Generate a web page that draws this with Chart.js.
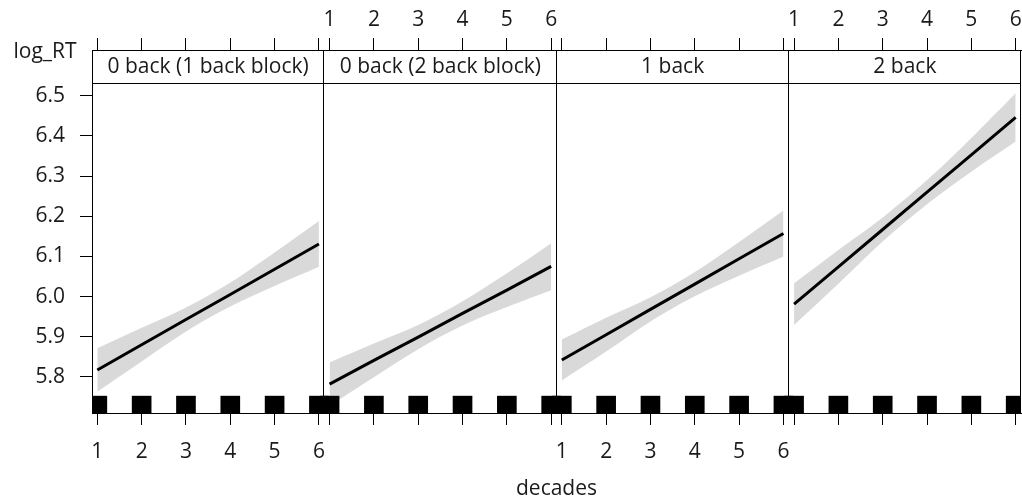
<!DOCTYPE html>
<html>
<head>
<meta charset="utf-8">
<script src="https://cdn.jsdelivr.net/npm/chart.js@4/dist/chart.umd.min.js"></script>
<style>
  html, body { margin: 0; padding: 0; background: #fff; }
  canvas { display: block; }
</style>
</head>
<body>
<canvas id="chart" width="1022" height="501"></canvas>
<script>
// Panel titles (strip labels), left to right
const panelTitles = ['0 back (1 back block)', '0 back (2 back block)', '1 back', '2 back'];

// Predictor values (decades) shared by every panel
const decades = [1, 2, 3, 4, 5, 6];

// Fitted log_RT and 95% band, one set per panel
const fit0Back1Block = [5.817, 5.880, 5.943, 6.005, 6.068, 6.131];
const low0Back1Block = [5.763, 5.838, 5.913, 5.975, 6.026, 6.074];
const upp0Back1Block = [5.871, 5.922, 5.973, 6.035, 6.110, 6.188];

const fit0Back2Block = [5.782, 5.841, 5.899, 5.958, 6.016, 6.075];
const low0Back2Block = [5.728, 5.799, 5.869, 5.928, 5.974, 6.016];
const upp0Back2Block = [5.836, 5.883, 5.929, 5.988, 6.058, 6.133];

const fit1Back = [5.842, 5.905, 5.968, 6.031, 6.094, 6.157];
const low1Back = [5.791, 5.863, 5.938, 6.001, 6.052, 6.100];
const upp1Back = [5.893, 5.947, 5.998, 6.061, 6.136, 6.214];

const fit2Back = [5.981, 6.074, 6.167, 6.260, 6.353, 6.446];
const low2Back = [5.929, 6.032, 6.137, 6.230, 6.311, 6.386];
const upp2Back = [6.033, 6.116, 6.197, 6.290, 6.395, 6.506];

// Y axis tick values
const yTickValues = [5.8, 5.9, 6.0, 6.1, 6.2, 6.3, 6.4, 6.5];

// Rug marks: observed decade values (same in every panel)
const rugDecades = [1, 2, 3, 4, 5, 6];

const panelFits = [fit0Back1Block, fit0Back2Block, fit1Back, fit2Back];
const panelLows = [low0Back1Block, low0Back2Block, low1Back, low2Back];
const panelUpps = [upp0Back1Block, upp0Back2Block, upp1Back, upp2Back];

// Each panel covers the same decades range; panels sit side by side on one x scale
const X_LO = 0.88;
const X_HI = 6.12;
const SPAN = X_HI - X_LO;
const Y_LO = 5.71;
const Y_HI = 6.614;
const RUG_TOP = 5.752;
const STRIP_H = 33;

const FONT = 'Open Sans';
const TEXT = '#1a1a1a';
const BAND = 'rgba(0,0,0,0.15)';

const xAt = (panel, d) => d + panel * SPAN;

const datasets = [];
panelFits.forEach((fit, p) => {
  datasets.push({
    type: 'line', order: 2,
    data: decades.map((d, i) => ({ x: xAt(p, d), y: panelLows[p][i] })),
    borderWidth: 0, pointRadius: 0, fill: false, tension: 0.35
  });
  datasets.push({
    type: 'line', order: 2,
    data: decades.map((d, i) => ({ x: xAt(p, d), y: panelUpps[p][i] })),
    borderWidth: 0, pointRadius: 0, fill: '-1', backgroundColor: BAND, tension: 0.35
  });
  datasets.push({
    type: 'line', order: 1,
    data: decades.map((d, i) => ({ x: xAt(p, d), y: fit[i] })),
    borderColor: '#000', borderWidth: 3, pointRadius: 0, fill: false
  });
});
const rugData = [];
panelTitles.forEach((t, p) => rugDecades.forEach(d => rugData.push({ x: xAt(p, d), y: [Y_LO, RUG_TOP] })));
datasets.push({
  type: 'bar', order: 0, data: rugData,
  backgroundColor: '#000', borderWidth: 0, barThickness: 19
});

const xTickValues = [];
panelTitles.forEach((t, p) => decades.forEach(d => xTickValues.push(xAt(p, d))));

const panelOf = v => Math.floor((v - X_LO) / SPAN);
const decadeOf = v => Math.round(v - panelOf(v) * SPAN);

// Keep the plot area edges fixed regardless of edge tick labels
const fixX = h => s => { s.height = h; s.paddingLeft = 0; s.paddingRight = 0; };

// Strip labels, panel frames and the response label
const framePlugin = {
  id: 'framePlugin',
  afterDraw(chart) {
    const { ctx, chartArea: a, scales: { x } } = chart;
    ctx.save();
    ctx.strokeStyle = '#000';
    ctx.lineWidth = 1;
    ctx.beginPath();
    const sy = Math.round(a.top + STRIP_H) + 0.5;
    ctx.moveTo(a.left, sy); ctx.lineTo(a.right, sy);
    for (let p = 1; p <= panelTitles.length; p++) {
      const px = Math.round(x.getPixelForValue(X_LO + p * SPAN)) - 0.5;
      ctx.moveTo(px, a.top); ctx.lineTo(px, a.bottom);
    }
    ctx.stroke();
    ctx.fillStyle = TEXT;
    ctx.font = `21px "${FONT}"`;
    ctx.textAlign = 'center';
    ctx.textBaseline = 'middle';
    panelTitles.forEach((t, p) => {
      const l = x.getPixelForValue(X_LO + p * SPAN);
      const r = x.getPixelForValue(X_LO + (p + 1) * SPAN);
      ctx.fillText(t, (l + r) / 2, a.top + STRIP_H / 2 + 1);
    });
    ctx.fillText('log_RT', 45, 52);
    ctx.restore();
  }
};

document.fonts.load(`21px "${FONT}"`).finally(() => {
  new Chart(document.getElementById('chart'), {
    type: 'line',
    data: { datasets },
    plugins: [framePlugin],
    options: {
      responsive: false,
      animation: false,
      layout: { padding: { left: 0, right: 1, top: 0, bottom: 0 } },
      plugins: { legend: { display: false }, tooltip: { enabled: false } },
      font: { family: FONT },
      scales: {
        x: {
          type: 'linear', position: 'bottom', min: X_LO, max: X_LO + panelTitles.length * SPAN,
          offset: false,
          afterBuildTicks: s => { s.ticks = xTickValues.map(v => ({ value: v })); },
          afterFit: fixX(88),
          grid: { display: true, drawOnChartArea: false, drawTicks: true, tickLength: 12, tickColor: '#000', offset: false },
          border: { display: true, color: '#000', width: 1 },
          ticks: {
            autoSkip: false, maxRotation: 0, padding: 14, color: TEXT,
            font: { family: FONT, size: 21 },
            callback: v => (panelOf(v) % 2 === 0 ? String(decadeOf(v)) : '')
          },
          title: { display: true, text: 'decades', color: TEXT, font: { family: FONT, size: 21 }, padding: { top: 0, bottom: -1 } }
        },
        x2: {
          type: 'linear', position: 'top', min: X_LO, max: X_LO + panelTitles.length * SPAN,
          offset: false,
          afterBuildTicks: s => { s.ticks = xTickValues.map(v => ({ value: v })); },
          afterFit: fixX(50),
          grid: { display: true, drawOnChartArea: false, drawTicks: true, tickLength: 12, tickColor: '#000', offset: false },
          border: { display: true, color: '#000', width: 1 },
          ticks: {
            autoSkip: false, maxRotation: 0, padding: 5, color: TEXT,
            font: { family: FONT, size: 21 },
            callback: v => (panelOf(v) % 2 === 1 ? String(decadeOf(v)) : '')
          }
        },
        y: {
          type: 'linear', position: 'left', min: Y_LO, max: Y_HI,
          afterBuildTicks: s => { s.ticks = yTickValues.map(v => ({ value: v })); },
          afterFit: s => { s.width = 92; s.paddingTop = 0; s.paddingBottom = 0; },
          grid: { display: true, drawOnChartArea: false, drawTicks: true, tickLength: 12, tickColor: '#000' },
          border: { display: true, color: '#000', width: 1 },
          ticks: {
            padding: 15, color: TEXT, font: { family: FONT, size: 21 },
            callback: v => v.toFixed(1)
          }
        }
      }
    }
  });
});
</script>
</body>
</html>
